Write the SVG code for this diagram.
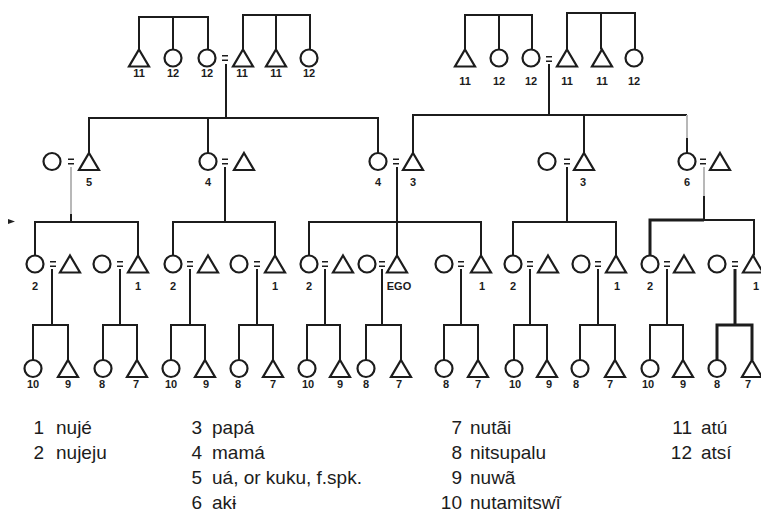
<svg xmlns="http://www.w3.org/2000/svg" xmlns:xlink="http://www.w3.org/1999/xlink" width="761" height="523" viewBox="0 0 761 523">
<style>
.s{fill:#fff;stroke:#1c1c1c;stroke-width:2.2}
.c path{fill:none;stroke:#1c1c1c;stroke-width:2}
.c path.g{stroke:#b8b8b8}
.c path.b{stroke-width:3}
.eq{fill:none;stroke:#1c1c1c;stroke-width:1.6}
.t{font-family:"Liberation Sans",Arial,sans-serif;font-size:11px;font-weight:bold;fill:#1c1c1c;text-anchor:middle}
.k{font-family:"Liberation Sans",Arial,sans-serif;font-size:19px;fill:#1c1c1c}
.n{text-anchor:end}
</style>
<defs>
<circle id="F" r="8.5"/>
<polygon id="M" points="0,-8.5 10,8.5 -10,8.5"/>
<path id="E" d="M-3,-2.2H3M-3,2.2H3"/>
</defs>
<rect width="761" height="523" fill="#fff"/>

<g id="connectors" class="c">
<!-- generation 1 siblings -->
<path d="M139,49.5V17H208V49.5M173,17V49.5"/>
<path d="M243,49.5V15H310V49.5M276,15V49.5"/>
<path d="M465,49.5V15H532V49.5M499,15V49.5"/>
<path d="M567,49.5V13H635V49.5M601,13V49.5"/>
<!-- generation 1 to 2 -->
<path d="M226,64V118"/>
<path d="M89,153V118H378V153M208,118V153"/>
<path d="M549,64V115"/>
<path d="M413,153V115H687M584,115V153"/>
<path class="g" d="M687,115V138"/>
<path d="M687,138V153"/>
<!-- generation 2 to 3 -->
<path class="g" d="M71,167V214"/>
<path d="M71,214V222"/>
<path d="M35,255.5V222H138V255.5"/>
<path d="M225,167V222"/>
<path d="M173,255.5V222H275V255.5"/>
<path d="M397,167V255.5"/>
<path d="M309,255.5V222H481V255.5"/>
<path d="M567,167V222"/>
<path d="M513,255.5V222H616V255.5"/>
<path class="g" d="M704,167V196"/>
<path d="M704,196V220"/>
<path class="b" d="M650,255.5V220H704"/>
<path d="M704,220H754V255.5"/>
<!-- generation 3 to 4 -->
<path d="M52,269V325M33,360V325H68V360"/>
<path d="M120,269V325M103,360V325H137V360"/>
<path d="M190,269V325M171,360V325H205V360"/>
<path d="M257,269V325M239,360V325H273V360"/>
<path d="M325,269V325M307,360V325H340V360"/>
<path d="M382,269V325M366,360V325H401V360"/>
<path d="M461,269V325M444,360V325H478V360"/>
<path d="M530,269V325M514,360V325H547V360"/>
<path d="M598,269V325M580,360V325H615V360"/>
<path d="M667,269V325M650,360V325H683V360"/>
<path class="b" d="M735,269V325M717,360V325H752V360"/>
<!-- marriage signs -->
<use href="#E" class="eq" x="225" y="58"/>
<use href="#E" class="eq" x="549" y="59"/>
<use href="#E" class="eq" x="71" y="161.5"/>
<use href="#E" class="eq" x="225" y="161.5"/>
<use href="#E" class="eq" x="396" y="161.5"/>
<use href="#E" class="eq" x="567" y="161.5"/>
<use href="#E" class="eq" x="703" y="161.5"/>
<use href="#E" class="eq" x="53" y="264"/>
<use href="#E" class="eq" x="120" y="264"/>
<use href="#E" class="eq" x="190" y="264"/>
<use href="#E" class="eq" x="257" y="264"/>
<use href="#E" class="eq" x="325" y="264"/>
<use href="#E" class="eq" x="382" y="264"/>
<use href="#E" class="eq" x="461" y="264"/>
<use href="#E" class="eq" x="530" y="264"/>
<use href="#E" class="eq" x="598" y="264"/>
<use href="#E" class="eq" x="667" y="264"/>
<use href="#E" class="eq" x="735" y="264"/>
</g>

<!-- generation 1, left -->
<g id="g1a"><use href="#M" class="s" x="139" y="58"/><text class="t" x="139" y="77">11</text></g>
<g id="g1b"><use href="#F" class="s" x="173" y="58"/><text class="t" x="173" y="77">12</text></g>
<g id="g1c"><use href="#F" class="s" x="207" y="58"/><text class="t" x="207" y="77">12</text></g>
<g id="g1d"><use href="#M" class="s" x="243" y="58"/><text class="t" x="242" y="77">11</text></g>
<g id="g1e"><use href="#M" class="s" x="276" y="58"/><text class="t" x="276" y="77">11</text></g>
<g id="g1f"><use href="#F" class="s" x="309" y="58"/><text class="t" x="309" y="77">12</text></g>
<!-- generation 1, right -->
<g id="g1g"><use href="#M" class="s" x="465" y="58"/><text class="t" x="465" y="85">11</text></g>
<g id="g1h"><use href="#F" class="s" x="499" y="58"/><text class="t" x="499" y="85">12</text></g>
<g id="g1i"><use href="#F" class="s" x="531" y="58"/><text class="t" x="531" y="85">12</text></g>
<g id="g1j"><use href="#M" class="s" x="567" y="58"/><text class="t" x="567" y="85">11</text></g>
<g id="g1k"><use href="#M" class="s" x="602" y="58"/><text class="t" x="602" y="85">11</text></g>
<g id="g1l"><use href="#F" class="s" x="634" y="58"/><text class="t" x="634" y="85">12</text></g>

<!-- generation 2 -->
<g id="g2a"><use href="#F" class="s" x="52" y="161.5"/></g>
<g id="g2b"><use href="#M" class="s" x="89" y="161.5"/><text class="t" x="89" y="186">5</text></g>
<g id="g2c"><use href="#F" class="s" x="208" y="161.5"/><text class="t" x="208" y="186">4</text></g>
<g id="g2d"><use href="#M" class="s" x="244" y="161.5"/></g>
<g id="g2e"><use href="#F" class="s" x="378" y="161.5"/><text class="t" x="378" y="186">4</text></g>
<g id="g2f"><use href="#M" class="s" x="413" y="161.5"/><text class="t" x="413" y="186">3</text></g>
<g id="g2g"><use href="#F" class="s" x="547" y="161.5"/></g>
<g id="g2h"><use href="#M" class="s" x="584" y="161.5"/><text class="t" x="583" y="186">3</text></g>
<g id="g2i"><use href="#F" class="s" x="687" y="161.5"/><text class="t" x="687" y="186">6</text></g>
<g id="g2j"><use href="#M" class="s" x="720" y="161.5"/></g>

<!-- generation 3 -->
<g id="g3a"><use href="#F" class="s" x="35" y="264"/><text class="t" x="35" y="290">2</text></g>
<g id="g3b"><use href="#M" class="s" x="70" y="264"/></g>
<g id="g3c"><use href="#F" class="s" x="102" y="264"/></g>
<g id="g3d"><use href="#M" class="s" x="138" y="264"/><text class="t" x="138" y="290">1</text></g>
<g id="g3e"><use href="#F" class="s" x="173" y="264"/><text class="t" x="173" y="290">2</text></g>
<g id="g3f"><use href="#M" class="s" x="208" y="264"/></g>
<g id="g3g"><use href="#F" class="s" x="239" y="264"/></g>
<g id="g3h"><use href="#M" class="s" x="275" y="264"/><text class="t" x="275" y="290">1</text></g>
<g id="g3i"><use href="#F" class="s" x="309" y="264"/><text class="t" x="309" y="290">2</text></g>
<g id="g3j"><use href="#M" class="s" x="343" y="264"/></g>
<g id="g3k"><use href="#F" class="s" x="367" y="264"/></g>
<g id="ego"><use href="#M" class="s" x="397" y="264"/><text class="t" x="399" y="290">EGO</text></g>
<g id="g3m"><use href="#F" class="s" x="444" y="264"/></g>
<g id="g3n"><use href="#M" class="s" x="481" y="264"/><text class="t" x="482" y="290">1</text></g>
<g id="g3o"><use href="#F" class="s" x="513" y="264"/><text class="t" x="513" y="290">2</text></g>
<g id="g3p"><use href="#M" class="s" x="548" y="264"/></g>
<g id="g3q"><use href="#F" class="s" x="581" y="264"/></g>
<g id="g3r"><use href="#M" class="s" x="616" y="264"/><text class="t" x="617" y="290">1</text></g>
<g id="g3s"><use href="#F" class="s" x="650" y="264"/><text class="t" x="650" y="290">2</text></g>
<g id="g3t"><use href="#M" class="s" x="684" y="264"/></g>
<g id="g3u"><use href="#F" class="s" x="717" y="264"/></g>
<g id="g3v"><use href="#M" class="s" x="753" y="264"/><text class="t" x="756" y="290">1</text></g>

<!-- generation 4 -->
<g id="g4a"><use href="#F" class="s" x="33" y="368.5"/><text class="t" x="33" y="388">10</text></g>
<g id="g4b"><use href="#M" class="s" x="68" y="368.5"/><text class="t" x="68" y="388">9</text></g>
<g id="g4c"><use href="#F" class="s" x="103" y="368.5"/><text class="t" x="102" y="388">8</text></g>
<g id="g4d"><use href="#M" class="s" x="137" y="368.5"/><text class="t" x="136" y="388">7</text></g>
<g id="g4e"><use href="#F" class="s" x="171" y="368.5"/><text class="t" x="171" y="388">10</text></g>
<g id="g4f"><use href="#M" class="s" x="205" y="368.5"/><text class="t" x="206" y="388">9</text></g>
<g id="g4g"><use href="#F" class="s" x="239" y="368.5"/><text class="t" x="238" y="388">8</text></g>
<g id="g4h"><use href="#M" class="s" x="273" y="368.5"/><text class="t" x="273" y="388">7</text></g>
<g id="g4i"><use href="#F" class="s" x="307" y="368.5"/><text class="t" x="308" y="388">10</text></g>
<g id="g4j"><use href="#M" class="s" x="340" y="368.5"/><text class="t" x="340" y="388">9</text></g>
<g id="g4k"><use href="#F" class="s" x="366" y="368.5"/><text class="t" x="366" y="388">8</text></g>
<g id="g4l"><use href="#M" class="s" x="401" y="368.5"/><text class="t" x="399" y="388">7</text></g>
<g id="g4m"><use href="#F" class="s" x="444" y="368.5"/><text class="t" x="446" y="388">8</text></g>
<g id="g4n"><use href="#M" class="s" x="478" y="368.5"/><text class="t" x="478" y="388">7</text></g>
<g id="g4o"><use href="#F" class="s" x="514" y="368.5"/><text class="t" x="515" y="388">10</text></g>
<g id="g4p"><use href="#M" class="s" x="547" y="368.5"/><text class="t" x="549" y="388">9</text></g>
<g id="g4q"><use href="#F" class="s" x="580" y="368.5"/><text class="t" x="576" y="388">8</text></g>
<g id="g4r"><use href="#M" class="s" x="615" y="368.5"/><text class="t" x="610" y="388">7</text></g>
<g id="g4s"><use href="#F" class="s" x="650" y="368.5"/><text class="t" x="648" y="388">10</text></g>
<g id="g4t"><use href="#M" class="s" x="683" y="368.5"/><text class="t" x="683" y="388">9</text></g>
<g id="g4u"><use href="#F" class="s" x="717" y="368.5"/><text class="t" x="717" y="388">8</text></g>
<g id="g4v"><use href="#M" class="s" x="752" y="368.5"/><text class="t" x="748" y="388">7</text></g>

<polygon points="8,219 15,221.5 8,224" fill="#222"/>

<!-- legend -->
<g id="legend" class="k">
<text class="n" x="44" y="434">1</text><text x="56" y="434">nujé</text>
<text class="n" x="44" y="459">2</text><text x="56" y="459">nujeju</text>
<text class="n" x="202" y="434">3</text><text x="212" y="434">papá</text>
<text class="n" x="202" y="459">4</text><text x="212" y="459">mamá</text>
<text class="n" x="202" y="484">5</text><text x="212" y="484">uá, or kuku, f.spk.</text>
<text class="n" x="202" y="509">6</text><text x="212" y="509">akɨ</text>
<text class="n" x="462" y="434">7</text><text x="470" y="434">nutãi</text>
<text class="n" x="462" y="459">8</text><text x="470" y="459">nitsupalu</text>
<text class="n" x="462" y="484">9</text><text x="470" y="484">nuwã</text>
<text class="n" x="462" y="509">10</text><text x="470" y="509">nutamitswĩ</text>
<text class="n" x="692" y="434">11</text><text x="701" y="434">atú</text>
<text class="n" x="692" y="459">12</text><text x="701" y="459">atsí</text>
</g>
</svg>
